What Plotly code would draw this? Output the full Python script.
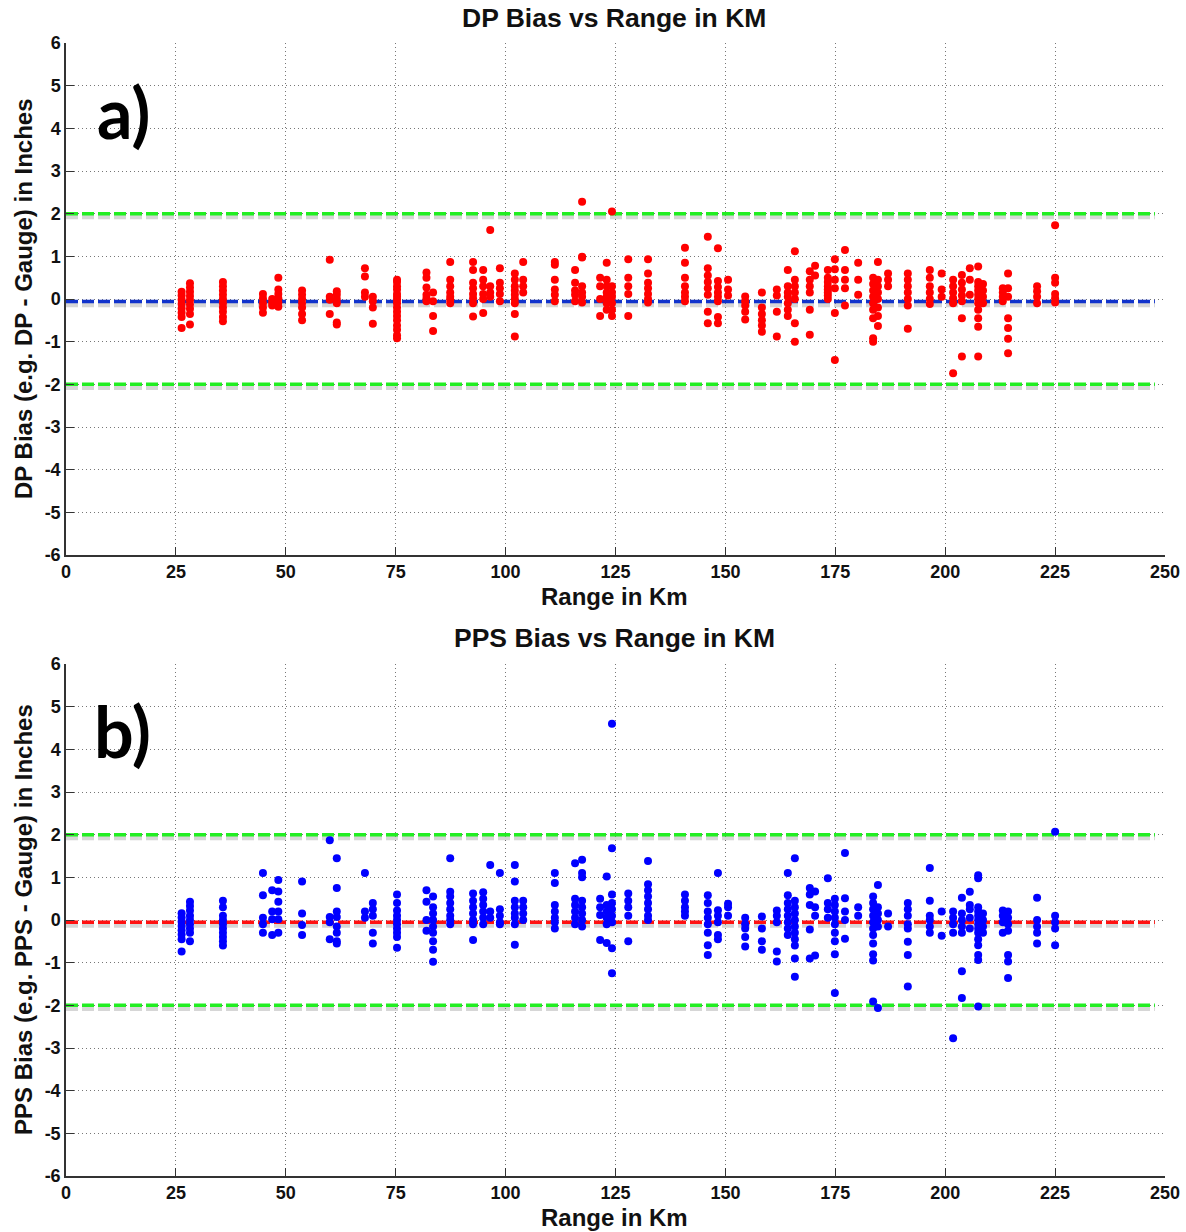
import plotly.graph_objects as go

# Gauge ranges (km) and bias values for each gauge
dp_ranges = [26.3, 28.2, 35.7, 44.8, 46.9, 48.3, 53.7, 60.0, 61.6, 68.0, 69.8, 75.3, 82.0, 83.5,
             87.4, 92.6, 94.9, 96.5, 98.7, 102.1, 104.0, 111.2, 115.8, 117.4, 121.5, 123.0, 124.2,
             127.9, 132.4, 140.8, 146.0, 148.3, 150.6, 154.5, 158.3, 161.7, 164.2, 165.8, 169.2,
             170.4, 173.3, 174.9, 177.2, 180.2, 183.6, 184.7, 187.0, 191.5, 196.5, 199.2, 201.8,
             203.8, 205.6, 207.5, 208.6, 213.1, 214.3, 220.9, 225.0]

dp_bias = [
    [0.17, 0.08, -0.02, -0.12, -0.22, -0.32, -0.42, -0.68],
    [0.37, 0.27, 0.17, 0.07, -0.03, -0.13, -0.23, -0.35, -0.6],
    [0.4, 0.3, 0.2, 0.1, 0.0, -0.1, -0.2, -0.3, -0.42, -0.52],
    [0.12, 0.02, -0.1, -0.2, -0.32],
    [0.0, -0.08, -0.15],
    [0.5, 0.22, 0.12, 0.02, -0.08, -0.18],
    [0.2, 0.1, 0.0, -0.1, -0.2, -0.35, -0.5],
    [0.92, 0.05, -0.02, -0.35],
    [0.18, 0.1, 0.0, -0.1, -0.55, -0.6],
    [0.72, 0.53, 0.15, 0.05],
    [0.05, -0.05, -0.2, -0.58],
    [0.45, 0.4, 0.3, 0.22, 0.12, 0.05, -0.02, -0.1, -0.2, -0.3, -0.4, -0.5, -0.62, -0.72, -0.85, -0.92],
    [0.62, 0.5, 0.27, 0.1, 0.02, -0.05],
    [0.15, -0.05, -0.4, -0.75],
    [0.87, 0.45, 0.3, 0.15, 0.05, -0.02, -0.1],
    [0.87, 0.68, 0.38, 0.25, 0.12, 0.02, -0.1, -0.41],
    [0.68, 0.45, 0.3, 0.12, 0.0, -0.33],
    [1.62, 0.3, 0.15, 0.05],
    [0.72, 0.38, 0.25, 0.12, -0.05],
    [0.6, 0.45, 0.3, 0.2, 0.1, 0.0, -0.1, -0.35, -0.88],
    [0.87, 0.45, 0.3, 0.15],
    [0.87, 0.8, 0.45, 0.22, 0.1, -0.05],
    [0.68, 0.38, 0.2, 0.1, -0.05],
    [2.28, 0.99, 0.97, 0.3, 0.15, 0.05, -0.08],
    [0.5, 0.3, 0.0, -0.4],
    [0.85, 0.45, 0.3, 0.15, 0.05, -0.1, -0.25],
    [2.05, 0.3, 0.15, 0.05, -0.1, -0.25, -0.4],
    [0.93, 0.5, 0.3, 0.12, -0.4],
    [0.93, 0.6, 0.38, 0.25, 0.12, 0.0, -0.08],
    [1.2, 0.85, 0.5, 0.3, 0.15, 0.05, -0.05],
    [1.46, 0.72, 0.55, 0.4, 0.25, 0.1, -0.3, -0.57],
    [1.19, 0.42, 0.28, 0.15, 0.05, -0.05, -0.42, -0.57],
    [0.45, 0.22, 0.08],
    [0.06, -0.05, -0.15, -0.3, -0.48],
    [0.15, -0.2, -0.35, -0.5, -0.62, -0.77],
    [0.22, 0.08, -0.3, -0.88],
    [0.68, 0.3, 0.15, 0.05, -0.1, -0.25, -0.4],
    [1.12, 0.45, 0.3, 0.15, 0.0, -0.57, -1.0],
    [0.65, 0.45, 0.3, 0.15, -0.25, -0.84],
    [0.78, 0.55],
    [0.68, 0.5, 0.4, 0.3, 0.22, 0.15, 0.08, 0.0],
    [0.93, 0.7, 0.45, 0.25, -0.33, -1.43],
    [1.15, 0.68, 0.45, 0.25, -0.15],
    [0.85, 0.45, 0.1],
    [0.5, 0.35, 0.2, 0.05, -0.1, -0.25, -0.45, -0.92, -1.0],
    [0.87, 0.45, 0.3, 0.15, 0.0, -0.2, -0.4, -0.63],
    [0.6, 0.45, 0.3],
    [0.6, 0.45, 0.3, 0.15, 0.0, -0.15, -0.7],
    [0.68, 0.5, 0.3, 0.15, 0.0, -0.12],
    [0.6, 0.22, 0.05],
    [0.45, 0.3, 0.15, 0.02, -0.1, -1.74],
    [0.56, 0.38, 0.22, 0.08, -0.05, -0.45, -1.35],
    [0.72, 0.45, 0.1],
    [0.76, 0.4, 0.3, 0.2, 0.1, 0.0, -0.1, -0.25, -0.45, -0.65, -1.35],
    [0.35, 0.2, 0.05, -0.1],
    [0.25, 0.15, 0.05, -0.05],
    [0.6, 0.25, 0.05, -0.45, -0.68, -0.93, -1.27],
    [0.3, 0.18, 0.05, -0.1],
    [1.73, 0.5, 0.38, 0.12, 0.02, -0.08],
]

pps_ranges = dp_ranges

pps_bias = [
    [0.16, 0.06, -0.04, -0.14, -0.24, -0.34, -0.45, -0.74],
    [0.43, 0.33, 0.22, 0.1, 0.0, -0.1, -0.2, -0.3, -0.5],
    [0.45, 0.3, 0.1, 0.0, -0.1, -0.2, -0.3, -0.4, -0.5, -0.6],
    [1.1, 0.58, 0.05, -0.1, -0.3],
    [0.7, 0.2, 0.02, -0.35],
    [0.94, 0.67, 0.43, 0.2, 0.02, -0.3],
    [0.9, 0.15, -0.12, -0.35],
    [1.87, 0.07, -0.05, -0.45],
    [1.45, 0.75, 0.2, 0.07, -0.15, -0.3, -0.5, -0.55],
    [1.1, 0.2, 0.05],
    [0.4, 0.25, 0.1, -0.3, -0.55],
    [0.6, 0.4, 0.22, 0.1, 0.0, -0.1, -0.2, -0.3, -0.4, -0.65],
    [0.7, 0.43, 0.0, -0.25],
    [0.55, 0.3, 0.15, 0.0, -0.15, -0.3, -0.5, -0.7, -0.98],
    [1.45, 0.66, 0.55, 0.4, 0.25, 0.1, 0.0, -0.1],
    [0.62, 0.45, 0.3, 0.15, 0.0, -0.1, -0.47],
    [0.65, 0.5, 0.35, 0.2, 0.05, -0.1],
    [1.29, 0.2, 0.05],
    [1.1, 0.25, 0.1, -0.05, -0.1],
    [1.29, 0.9, 0.45, 0.3, 0.15, 0.05, -0.1, -0.58],
    [0.45, 0.3, 0.15, 0.0],
    [1.1, 0.87, 0.35, 0.2, 0.05, -0.05, -0.2],
    [1.33, 0.5, 0.35, 0.2, 0.05, -0.1],
    [1.41, 1.1, 1.0, 0.45, 0.3, 0.15, 0.0, -0.15],
    [0.5, 0.3, 0.12, -0.47],
    [1.02, 0.35, 0.2, 0.05, -0.1, -0.54],
    [4.6, 1.68, 0.6, 0.4, 0.25, 0.1, -0.05, -0.66, -1.25],
    [0.62, 0.45, 0.3, 0.1, -0.5],
    [1.38, 0.84, 0.7, 0.55, 0.4, 0.25, 0.1, 0.0],
    [0.6, 0.45, 0.3, 0.2, 0.1],
    [0.58, 0.4, 0.2, 0.05, -0.1, -0.3, -0.59, -0.82],
    [1.1, 0.23, 0.1, -0.05, -0.35, -0.45],
    [0.38, 0.3, 0.1],
    [0.05, -0.1, -0.2, -0.4, -0.62],
    [0.08, -0.2, -0.5, -0.7],
    [0.22, 0.1, -0.05, -0.74, -0.97],
    [1.1, 0.58, 0.4, 0.25, 0.1, -0.05, -0.2, -0.35],
    [1.45, 0.45, 0.3, 0.15, 0.0, -0.15, -0.3, -0.45, -0.6, -0.9, -1.33],
    [0.75, 0.6, 0.35, -0.22, -0.9],
    [0.67, 0.3, 0.1, -0.83],
    [0.98, 0.4, 0.25, 0.05],
    [0.5, 0.35, 0.2, 0.05, -0.1, -0.3, -0.5, -0.8, -1.71],
    [1.57, 0.51, 0.2, 0.0, -0.44],
    [0.3, 0.1],
    [0.55, 0.4, 0.25, 0.1, -0.05, -0.2, -0.35, -0.55, -0.8, -0.95, -1.91],
    [0.82, 0.3, 0.15, 0.0, -0.15, -2.06],
    [0.15, -0.15],
    [0.4, 0.25, 0.1, -0.1, -0.2, -0.51, -0.82, -1.56],
    [1.22, 0.45, 0.1, 0.0, -0.15, -0.3],
    [0.2, -0.37],
    [0.2, 0.05, -0.1, -0.3, -2.77],
    [0.52, 0.15, 0.0, -0.15, -0.3, -1.2, -1.83],
    [0.66, 0.35, 0.25, 0.05, -0.2],
    [1.05, 0.98, 0.3, 0.2, 0.1, 0.0, -0.1, -0.2, -0.3, -0.45, -0.59, -0.82, -0.94, -2.03],
    [0.15, 0.0, -0.15, -0.3],
    [0.22, 0.1, -0.05, -0.3],
    [0.2, 0.05, -0.1, -0.25, -0.82, -0.97, -1.36],
    [0.52, 0.0, -0.15, -0.3, -0.55],
    [2.07, 0.1, -0.05, -0.2, -0.59],
]

dp_mean = -0.06
pps_mean = -0.05
limit = 2.0
x_ticks = [0, 25, 50, 75, 100, 125, 150, 175, 200, 225, 250]
y_ticks = [-6, -5, -4, -3, -2, -1, 0, 1, 2, 3, 4, 5, 6]
y_ticklabels = [str(v) for v in y_ticks]

def flatten(ranges, vals):
    xs, ys = [], []
    for r, vs in zip(ranges, vals):
        for v in vs:
            xs.append(r)
            ys.append(v)
    return xs, ys

dp_x, dp_y = flatten(dp_ranges, dp_bias)
pps_x, pps_y = flatten(pps_ranges, pps_bias)

fig = go.Figure()

line_x = [0, 247.7]

def add_hline(y, color, xa, ya):
    # soft shadow
    fig.add_trace(go.Scatter(x=line_x, y=[y - 0.05, y - 0.05], mode="lines",
                             line=dict(color="rgba(90,90,90,0.25)", width=7, dash="12px,4px"),
                             xaxis=xa, yaxis=ya, hoverinfo="skip", showlegend=False))
    fig.add_trace(go.Scatter(x=line_x, y=[y, y], mode="lines",
                             line=dict(color=color, width=3.5, dash="12px,4px"),
                             xaxis=xa, yaxis=ya, hoverinfo="skip", showlegend=False))

# top panel
add_hline(limit, "#22ee22", "x", "y")
add_hline(-limit, "#22ee22", "x", "y")
add_hline(dp_mean, "#1133cc", "x", "y")
fig.add_trace(go.Scatter(x=dp_x, y=dp_y, mode="markers",
                         marker=dict(color="#ff0000", size=8, line=dict(width=0)),
                         xaxis="x", yaxis="y", showlegend=False))
# bottom panel
add_hline(limit, "#22ee22", "x2", "y2")
add_hline(-limit, "#22ee22", "x2", "y2")
add_hline(pps_mean, "#ff1111", "x2", "y2")
fig.add_trace(go.Scatter(x=pps_x, y=pps_y, mode="markers",
                         marker=dict(color="#0000ff", size=8, line=dict(width=0)),
                         xaxis="x2", yaxis="y2", showlegend=False))

tickfont = dict(family="Liberation Sans, Arial", size=18, color="#111", weight="bold")
xcommon = dict(range=[0, 250], tickvals=x_ticks, showgrid=True, gridcolor="#777",
               griddash="1px,3px", gridwidth=1, showline=True, linecolor="#333", linewidth=1.5,
               ticks="inside", ticklen=8, tickcolor="#333", tickfont=tickfont, zeroline=False,
               mirror=False, automargin=False)
ycommon = dict(range=[-6, 6], tickvals=y_ticks, ticktext=y_ticklabels, showgrid=True,
               gridcolor="#777", griddash="1px,3px", gridwidth=1, showline=True, linecolor="#333",
               linewidth=1.5, ticks="inside", ticklen=8, tickcolor="#333", tickfont=tickfont,
               zeroline=False, automargin=False)

top_dom = [(1176 - 555) / 1133, 1.0]
bot_dom = [0.0, (1176 - 664) / 1133]

fig.update_layout(
    width=1186, height=1232,
    margin=dict(l=66, r=21, t=43, b=56, autoexpand=False),
    paper_bgcolor="white", plot_bgcolor="white",
    xaxis=dict(**xcommon, domain=[0, 1], anchor="y"),
    yaxis=dict(**ycommon, domain=top_dom, anchor="x"),
    xaxis2=dict(**xcommon, domain=[0, 1], anchor="y2"),
    yaxis2=dict(**ycommon, domain=bot_dom, anchor="x2"),
    showlegend=False,
)

def pyc(px):
    return (1176 - px) / 1133

def pxc(px):
    return (px - 66) / 1099

titlefont = dict(family="Liberation Sans, Arial", size=26.5, color="#111", weight="bold")
labfont = dict(family="Liberation Sans, Arial", size=24, color="#111", weight="bold")
annotations = [
    dict(text="DP Bias vs Range in KM", x=pxc(614), y=pyc(18), font=titlefont),
    dict(text="PPS Bias vs Range in KM", x=pxc(614), y=pyc(638), font=titlefont),
    dict(text="Range in Km", x=pxc(614), y=pyc(596), font=labfont),
    dict(text="Range in Km", x=pxc(614), y=pyc(1217), font=labfont),
    dict(text="DP Bias (e.g. DP - Gauge) in Inches", x=pxc(23), y=pyc(299), font=labfont,
         textangle=-90),
    dict(text="PPS Bias (e.g. PPS - Gauge) in Inches", x=pxc(23), y=pyc(920), font=labfont,
         textangle=-90),
]
for a in annotations:
    a.update(xref="paper", yref="paper", showarrow=False, xanchor="center", yanchor="middle")
pfont = dict(family="Lato, Open Sans, sans-serif", size=70, color="#000", weight="bold")
annotations.append(dict(text="a)", x=pxc(124), y=pyc(112), xref="paper", yref="paper",
                        showarrow=False, font=pfont, xanchor="center", yanchor="middle"))
annotations.append(dict(text="b)", x=pxc(122), y=pyc(731), xref="paper", yref="paper",
                        showarrow=False, font=pfont, xanchor="center", yanchor="middle"))
fig.update_layout(annotations=annotations)

fig.write_html("out.html", config={"displayModeBar": False},
               post_script="document.body.style.margin='0';document.body.style.overflow='hidden';")
